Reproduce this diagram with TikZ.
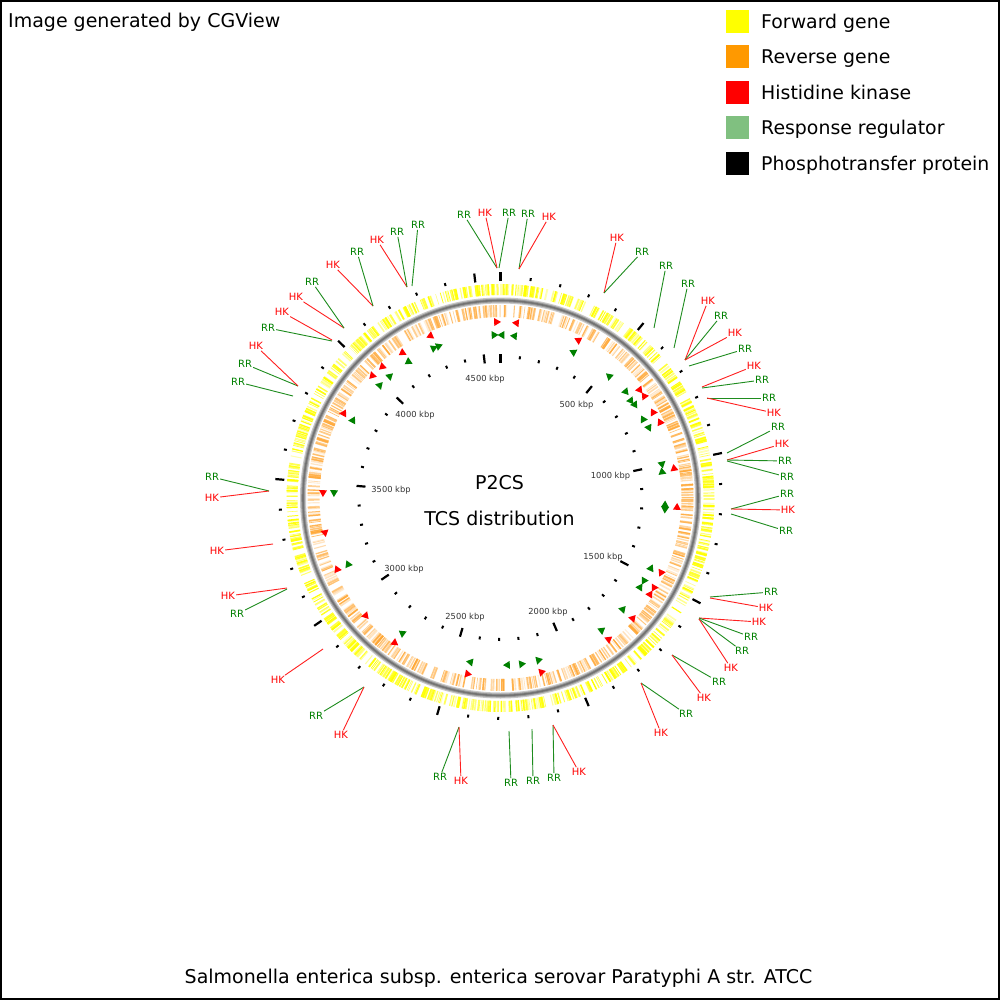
\documentclass[tikz,border=0pt]{standalone}
\usepackage{fontspec}
\setmainfont{DejaVu Sans}
\definecolor{fwd}{HTML}{FFFF00}
\definecolor{rev}{HTML}{FF9900}
\definecolor{revl}{HTML}{FFA733}
\definecolor{mR}{HTML}{FF0000}
\definecolor{mG}{HTML}{008000}
\definecolor{lgG}{HTML}{80C080}
\definecolor{lnR}{HTML}{FF2020}
\definecolor{lnG}{HTML}{1E8C1E}
\tikzset{
  hk/.style={text=mR, font=\fontsize{10}{12}\selectfont, inner sep=1pt},
  rr/.style={text=mG, font=\fontsize{10}{12}\selectfont, inner sep=1pt},
  hk line/.style={draw=lnR, line width=0.9},
  rr line/.style={draw=lnG, line width=0.9},
  kbp/.style={font=\fontsize{8.3}{10}\selectfont, text=black!80, inner sep=0pt},
  legbox/.style={minimum width=23, minimum height=23, inner sep=0pt, draw=none},
  legtxt/.style={anchor=base west, font=\fontsize{18.9}{22}\selectfont, inner sep=0pt},
  bigtxt/.style={font=\fontsize{19}{22}\selectfont, inner sep=0pt},
}
\begin{document}
\begin{tikzpicture}[x=1pt,y=-1pt]
\useasboundingbox (0,0) rectangle (1000,1000);
\fill[white] (0,0) rectangle (1000,1000);
\draw[black, line width=2] (1,1) rectangle (999,999);

% ---------- rings ----------
\begin{scope}[shift={(500.5,498)}]
  \pgfmathsetseed{11}
  \foreach \i in {1,...,900}{
    \pgfmathsetmacro\a{360*rnd}
    \pgfmathsetmacro\w{0.5+1.4*rnd}
    \pgfmathsetmacro\o{0.25+0.75*rnd}
    \draw[fwd, line width=\w, opacity=\o] (\a:203) -- (\a:214);
  }
  \foreach \i in {1,...,850}{
    \pgfmathsetmacro\a{360*rnd}
    \pgfmathsetmacro\w{0.5+1.4*rnd}
    \pgfmathsetmacro\o{0.12+0.7*rnd}
    \draw[revl, line width=\w, opacity=\o] (\a:181) -- (\a:193);
  }
  % backbone
  \draw[black!22, line width=6] (0,0) circle (197.5);
  \draw[black!40, line width=3.6] (0,0) circle (197.5);
  \draw[black!55, line width=1.6] (0,0) circle (197.5);
  % ticks
  \foreach \k in {0,...,45}{
    \pgfmathsetmacro\a{-90+7.8517*\k}
    \pgfmathtruncatemacro\m{mod(\k,5)}
    \ifnum\m=0
      \draw[black, line width=2.2] (\a:217) -- (\a:226);
      \draw[black, line width=2.2] (\a:135.5) -- (\a:144.5);
    \else
      \draw[black, line width=2] (\a:219) -- (\a:222);
      \draw[black, line width=2] (\a:140) -- (\a:143);
    \fi
  }
\end{scope}

% ---------- kbp labels ----------
\node[kbp] (k500)  at (576.5,405) {500 kbp};
\node[kbp] (k1000) at (610.5,476) {1000 kbp};
\node[kbp] (k1500) at (603,557) {1500 kbp};
\node[kbp] (k2000) at (548,612) {2000 kbp};
\node[kbp] (k2500) at (465,617) {2500 kbp};
\node[kbp] (k3000) at (404,569) {3000 kbp};
\node[kbp] (k3500) at (391,490) {3500 kbp};
\node[kbp] (k4000) at (415,415) {4000 kbp};
\node[kbp] (k4500) at (485,379) {4500 kbp};

% ---------- markers (HK red outer, RR green inner) ----------
\foreach \c/\x/\y/\d in {
  R/497/322/1, R/516/323/-1, G/494.5/335/1, G/501.5/335/-1, G/514/336/-1,
  R/430/336/-1, G/434/348/1, G/439/346/1, R/402/353/-1, G/408/362/-1,
  R/382/367/-1, R/372/376/-1, G/390/376/1, G/380/385/1, R/344/413/1, G/353/420/1,
  R/323/493/-1, G/334/493/-1, R/325/533/-1, R/337/569/1, G/348/564/1,
  R/366/616/-1, G/402/633/1, R/395/643/-1,
  G/470/662/1, R/468/674/-1, G/507/665/1, G/522/664/-1, G/539/660/-1, R/542/672/-1,
  G/602/630/-1, R/609/639/-1, G/623/609/-1, R/633/618/-1,
  G/643.8/581/1, G/640.2/587/-1, R/653.8/588/1, R/650.2/594/-1,
  G/651/568/-1, R/661/573/1,
  G/665/504.5/-1, G/665/509.5/1, R/677/507/-1,
  G/662/464.5/1, G/662/471.5/-1, R/674/468/-1,
  G/609/376/-1, G/626/392/1, R/639.9/390.2/1, R/644.1/395.8/-1,
  G/631/401/1, G/635/405/1, R/653/412/-1, G/643/419/-1, R/660/422/-1, G/649/428/1,
  R/578/340/-1, G/573/352/-1}{
  \pgfmathsetmacro\ang{atan2(\y-498,\x-500.5)}
  \fill[m\c] (\x,\y) +(\ang+90*\d:4) -- +(\ang-35*\d:4.88) -- +(\ang-145*\d:4.88) -- cycle;
}

% ---------- HK / RR labels ----------
\foreach \n/\s/\lx/\ly/\px/\py in {
  1/rr/464/215/497/268, 2/hk/485/213/497/268, 3/rr/509/213/499/268,
  4/rr/528/214/519/269, 5/hk/549/217/519/269,
  6/hk/617/238/604/293, 7/rr/642/252/604/293, 8/rr/666/266/654/328,
  9/rr/688/284/674/348, 10/hk/708/301/685/360, 11/rr/721/316/685/360,
  12/hk/735/333/685/360, 13/rr/745/349/689/366, 14/hk/754/366/702/387,
  15/rr/762/380/702/388, 16/rr/769/398/707/398, 17/hk/774/413/707/398,
  18/rr/778/427/727/453, 19/hk/782/444/727/460, 20/rr/785/461/727/460,
  21/rr/787/477/727/461, 22/rr/787/494/731/509, 23/hk/788/510/731/509,
  24/rr/786/531/731/514,
  25/rr/771/592/710/597, 26/hk/766/608/710/598, 27/hk/759/622/699/618,
  28/rr/751/637/699/618, 29/rr/742/651/699/619, 30/hk/731/668/699/619,
  31/rr/719/682/672/655, 32/hk/704/698/672/655, 33/rr/686/714/641/683,
  34/hk/661/733/641/683,
  35/rr/440/777/459/727, 36/hk/461/781/459/727, 37/rr/511/783/509/731,
  38/rr/533/781/532/729, 39/rr/554/778/553/725, 40/hk/579/772/553/725,
  41/hk/278/680/323/649, 42/rr/316/716/364/687, 43/hk/341/735/364/687,
  44/hk/228/596/287/588, 45/rr/237/614/287/589,
  46/rr/212/477/269/491, 47/hk/212/498/269/491, 48/hk/217/551/273/544,
  49/rr/238/382/293/396, 50/rr/245/364/298/386, 51/hk/256/346/298/386,
  52/rr/268/328/332/341, 53/hk/282/312/332/340, 54/hk/296/297/344/328,
  55/rr/312/282/344/328, 56/hk/333/265/373/306, 57/rr/357/252/373/306,
  58/hk/377/240/407/287, 59/rr/397/232/407/287, 60/rr/418/225/412/286}{
  \coordinate (p\n) at (\px,\py);
  \node[\s] (l\n) at (\lx,\ly) {\MakeUppercase{\s}};
  \draw[\s\space line] (p\n) -- (l\n);
}

% ---------- centre titles ----------
\node[bigtxt] (t1) at (499.5,483) {P2CS};
\node[bigtxt] (t2) at (499.5,518) {TCS distribution};

% ---------- header / footer ----------
\node[bigtxt, anchor=base west] (hdr) at (8,28) {Image generated by CGView};
\node[bigtxt] (ftr) at (498.5,978) {Salmonella enterica subsp. enterica serovar Paratyphi A str. ATCC};

% ---------- legend ----------
\node[legbox, fill=fwd]   (b1) at (737.5,21.5)  {};
\node[legbox, fill=rev]   (b2) at (737.5,57)    {};
\node[legbox, fill=mR]    (b3) at (737.5,92.5)  {};
\node[legbox, fill=lgG]   (b4) at (737.5,128)   {};
\node[legbox, fill=black] (b5) at (737.5,163.5) {};
\node[legtxt] (e1) at (761,28.5)  {Forward gene};
\node[legtxt] (e2) at (761,64)    {Reverse gene};
\node[legtxt] (e3) at (761,99.5)  {Histidine kinase};
\node[legtxt] (e4) at (761,135)   {Response regulator};
\node[legtxt] (e5) at (761,170.5) {Phosphotransfer protein};
\end{tikzpicture}
\end{document}
